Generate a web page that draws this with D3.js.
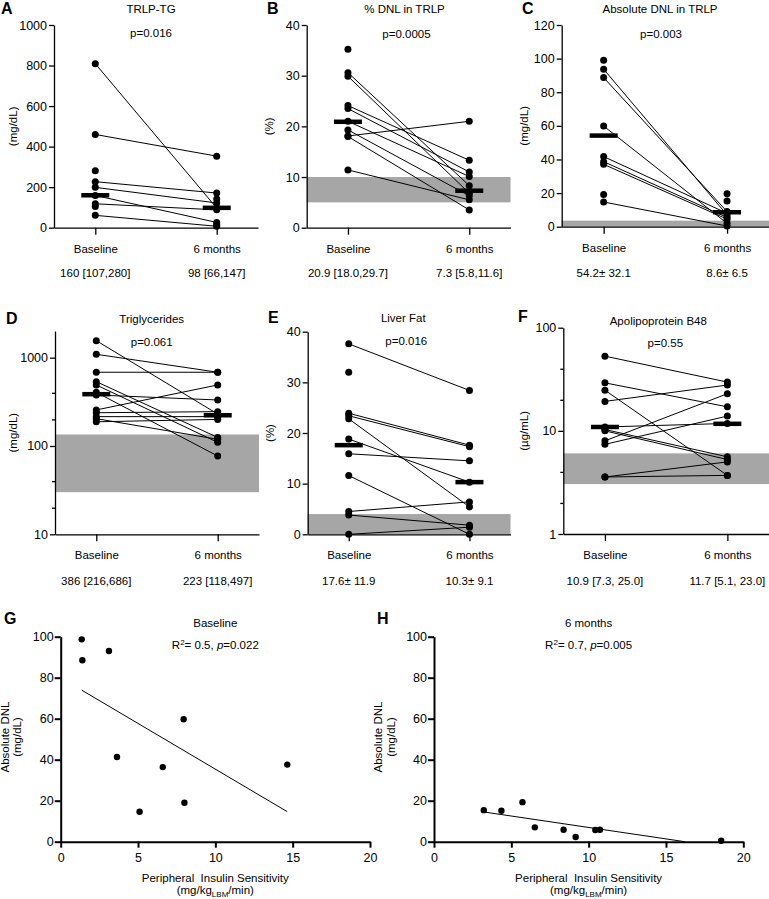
<!DOCTYPE html>
<html><head><meta charset="utf-8">
<script src="https://cdnjs.cloudflare.com/ajax/libs/d3/7.8.5/d3.min.js"></script>
<style>
body{margin:0;background:#fff}
svg{display:block}
text{font-family:"Liberation Sans",Arial,Helvetica,sans-serif;fill:#000}
</style>
</head><body>
<svg id="chart" width="769" height="899"></svg>
<script>
// ---------- DATA ----------
const categories = ["Baseline", "6 months"];

// A: TRLP-TG (mg/dL) — paired by index, null = unpaired
const trlpTgBaseline  = [809, 460, 227, 199, 159, 118, 61, 281, 105, null, null];
const trlpTgSixMonths = [97, 353, 171, 122, 26, 88, 7, null, null, 141, 15];
const trlpTgMedians   = [160, 98];
const trlpTgSummary   = ["160 [107,280]", "98 [66,147]"];
const trlpTgTicks     = [0, 200, 400, 600, 800, 1000];

// B: % DNL in TRLP
const pctDnlBaseline  = [30.6, 29.9, 24.1, 23.5, 21.0, 19.3, 18.1, 18.0, 11.4, 35.2];
const pctDnlSixMonths = [8.3, 6.8, 13.3, 11.0, 10.1, 6.3, 21.0, 3.5, 5.5, null];
const pctDnlMedians   = [20.9, 7.3];
const pctDnlSummary   = ["20.9 [18.0,29.7]", "7.3 [5.8,11.6]"];
const pctDnlRef       = [5, 10];
const pctDnlTicks     = [0, 10, 20, 30, 40];

// C: Absolute DNL in TRLP
const absDnlBaseline  = [93.7, 88.7, 59.9, 41.7, 38.7, 37.1, 14.7, 99.0, 19.2, null, null];
const absDnlSixMonths = [7.0, 9.0, 2.0, 8.0, 5.5, 4.5, 0.4, null, null, 19.6, 15.3];
const absDnlMeans     = [54.2, 8.6];
const absDnlSummary   = ["54.2\u00b1 32.1", "8.6\u00b1 6.5"];
const absDnlRef       = [0, 3.6];
const absDnlTicks     = [0, 20, 40, 60, 80, 100, 120];

// D: Triglycerides (log)
const tgBaseline  = [1559, 1093, 684, 535, 491, 405, 378, 256, 238, 215, 204, 188];
const tgSixMonths = [230, 684, 684, 125, 110, 77, 332, 491, 245, 215, 119, 200];
const tgMedians   = [386, 223];
const tgSummary   = ["386 [216,686]", "223 [118,497]"];
const tgRef       = [30, 135];
const tgTicks     = [10, 100, 1000];
const tgMinorTicks = [20, 40, 200, 400];

// E: Liver Fat (%)
const liverBaseline  = [37.6, 23.9, 23.4, 22.8, 18.8, 15.9, 11.6, 4.5, 3.8, 0, 32.0];
const liverSixMonths = [28.4, 17.6, 17.3, 5.4, 10.3, 14.5, 0, 6.4, 1.8, 1.4, null];
const liverMeans     = [17.6, 10.3];
const liverSummary   = ["17.6\u00b1 11.9", "10.3\u00b1 9.1"];
const liverRef       = [0, 4];
const liverTicks     = [0, 10, 20, 30, 40];

// F: Apolipoprotein B48 (log)
const apoBaseline  = [53, 29.2, 24.8, 19.3, 10.9, 10.3, 10.0, 8.0, 7.4, 3.57, 3.57];
const apoSixMonths = [29.7, 17.1, 3.7, 27.8, 11.8, 5.6, 5.27, 22.9, 13.9, 5.0, 3.7];
const apoMedians   = [10.9, 11.7];
const apoSummary   = ["10.9 [7.3, 25.0]", "11.7 [5.1, 23.0]"];
const apoRef       = [3.05, 6.05];
const apoTicks     = [1, 10, 100];
const apoMinorTicks = [2, 4, 20, 40];

// G / H: Absolute DNL vs Peripheral Insulin Sensitivity
const baselineIS  = [1.36, 1.4, 3.12, 7.95, 3.64, 6.6, 14.65, 5.1, 8.0];
const baselineDNL = [98.7, 88.5, 93.0, 59.7, 41.3, 36.4, 37.6, 14.6, 19.0];
const sixMonthIS  = [3.22, 4.36, 5.72, 6.52, 8.38, 9.16, 10.43, 10.73, 18.57];
const sixMonthDNL = [15.4, 15.1, 19.3, 7.0, 5.8, 2.3, 5.7, 5.8, 0.5];
const scatterXTicks = [0, 5, 10, 15, 20];
const scatterYTicks = [0, 20, 40, 60, 80, 100];

// ---------- DRAWING ----------
const svg = d3.select("#chart");
const GRAY = "#a6a6a6";
const FS = 11.5;

function styleAxis(g, w, fs) {
  g.selectAll("path.domain").attr("stroke", "#000").attr("stroke-width", w);
  g.selectAll(".tick line").attr("stroke", "#000").attr("stroke-width", w);
  g.selectAll(".tick text").attr("font-size", fs).attr("fill", "#000")
    .attr("font-family", '"Liberation Sans",Arial,sans-serif');
}

function txt(x, y, s, opt = {}) {
  return svg.append("text").attr("x", x).attr("y", y)
    .attr("text-anchor", opt.anchor || "middle")
    .attr("font-size", opt.size || FS)
    .attr("font-weight", opt.weight || "normal")
    .text(s);
}

function paired(o) {
  const g = svg.append("g");
  const x = d3.scalePoint().domain(categories).range([o.left, o.right]).padding(0.34);
  const y = (o.log ? d3.scaleLog() : d3.scaleLinear()).domain(o.domain).range([o.bottom, o.top]);
  if (o.band) {
    g.append("rect").attr("x", o.left).attr("width", o.right - o.left)
      .attr("y", y(o.band[1])).attr("height", y(o.band[0]) - y(o.band[1])).attr("fill", GRAY);
  }
  const xb = x(categories[0]), xs = x(categories[1]);
  o.base.forEach((b, i) => {
    const s = o.six[i];
    if (b != null && s != null) {
      g.append("line").attr("x1", xb).attr("y1", y(b)).attr("x2", xs).attr("y2", y(s))
        .attr("stroke", "#000").attr("stroke-width", 1);
    }
  });
  o.base.forEach(b => { if (b != null) g.append("circle").attr("cx", xb).attr("cy", y(b)).attr("r", 3.5); });
  o.six.forEach(s => { if (s != null) g.append("circle").attr("cx", xs).attr("cy", y(s)).attr("r", 3.5); });
  o.center.forEach((m, i) => {
    const cx = x(categories[i]);
    g.append("rect").attr("x", cx - 14).attr("y", y(m) - 2.25).attr("width", 28).attr("height", 4.5).attr("fill", "#000");
  });
  const ya = d3.axisLeft(y).tickValues(o.ticks).tickSize(5).tickPadding(2).tickSizeOuter(0)
    .tickFormat(d3.format("d"));
  const yg = g.append("g").attr("transform", `translate(${o.left},0)`).call(ya);
  styleAxis(yg, 1.3, 12.5);
  if (o.minor) {
    const mg = g.append("g").attr("transform", `translate(${o.left},0)`)
      .call(d3.axisLeft(y).tickValues(o.minor).tickSize(3).tickFormat("").tickSizeOuter(0));
    mg.select("path.domain").remove();
    styleAxis(mg, 1.3, 12);
  }
  const xa = d3.axisBottom(x).tickSize(7).tickPadding(10).tickSizeOuter(0);
  const xg = g.append("g").attr("transform", `translate(0,${o.bottom})`).call(xa);
  styleAxis(xg, 1.3, FS);
  o.summary.forEach((s, i) => txt(x(categories[i]), o.sumY, s));
  txt(o.titleX, o.titleY, o.title);
  txt(o.titleX + (o.pDx || 0), o.pY, o.p);
  txt(o.letterX, o.letterY, o.letter, {anchor: "start", size: 16, weight: 900});
  svg.append("text").attr("transform", `translate(${o.ylabX},${(o.top + o.bottom) / 2}) rotate(-90)`)
    .attr("text-anchor", "middle").attr("dy", "0.35em").attr("font-size", FS).text(o.ylab);
}

// Row 1
paired({left: 54, right: 258, top: 25, bottom: 227.7, domain: [0, 1000], ticks: trlpTgTicks,
  base: trlpTgBaseline, six: trlpTgSixMonths, center: trlpTgMedians, summary: trlpTgSummary, sumY: 276.5,
  title: "TRLP-TG", titleX: 151, titleY: 13, p: "p=0.016", pY: 36.5, letter: "A", letterX: 1, letterY: 14,
  ylab: "(mg/dL)", ylabX: 13});
paired({left: 306.7, right: 510.5, top: 25, bottom: 227.7, domain: [0, 40], ticks: pctDnlTicks, band: pctDnlRef,
  base: pctDnlBaseline, six: pctDnlSixMonths, center: pctDnlMedians, summary: pctDnlSummary, sumY: 276.5,
  title: "% DNL in TRLP", titleX: 404.5, titleY: 13, p: "p=0.0005", pDx: 2, pY: 38, letter: "B", letterX: 267, letterY: 14,
  ylab: "(%)", ylabX: 268.5});
paired({left: 561.7, right: 769, top: 25, bottom: 226.7, domain: [0, 120], ticks: absDnlTicks, band: absDnlRef,
  base: absDnlBaseline, six: absDnlSixMonths, center: absDnlMeans, summary: absDnlSummary, sumY: 276.5,
  title: "Absolute DNL in TRLP", titleX: 660, titleY: 13, p: "p=0.003", pDx: 1, pY: 38, letter: "C", letterX: 522, letterY: 14,
  ylab: "(mg/dL)", ylabX: 524});

// Row 2
paired({left: 55, right: 259, top: 331.1, bottom: 534.3, domain: [10, 2000], log: true, ticks: tgTicks, minor: tgMinorTicks,
  band: tgRef, base: tgBaseline, six: tgSixMonths, center: tgMedians, summary: tgSummary, sumY: 585,
  title: "Triglycerides", titleX: 151.7, titleY: 323, p: "p=0.061", pY: 346, letter: "D", letterX: 6, letterY: 324,
  ylab: "(mg/dL)", ylabX: 13});
paired({left: 307.7, right: 510.5, top: 331.7, bottom: 534.3, domain: [0, 40], ticks: liverTicks, band: liverRef,
  base: liverBaseline, six: liverSixMonths, center: liverMeans, summary: liverSummary, sumY: 585,
  title: "Liver Fat", titleX: 403.3, titleY: 322, p: "p=0.016", pDx: 3, pY: 345, letter: "E", letterX: 268, letterY: 323,
  ylab: "(%)", ylabX: 270});
paired({left: 563.3, right: 769, top: 327.7, bottom: 534, domain: [1, 100], log: true, ticks: apoTicks, minor: apoMinorTicks,
  band: apoRef, base: apoBaseline, six: apoSixMonths, center: apoMedians, summary: apoSummary, sumY: 585,
  title: "Apolipoprotein B48", titleX: 658.3, titleY: 325, p: "p=0.55", pDx: 7, pY: 347, letter: "F", letterX: 518, letterY: 322,
  ylab: "(\u00b5g/mL)", ylabX: 523.5});

// Row 3: scatter panels
function scatter(o) {
  const g = svg.append("g");
  const x = d3.scaleLinear().domain([0, 20]).range([o.left, o.left + 309.3]);
  const y = d3.scaleLinear().domain([0, 100]).range([841.7, 636.7]);
  const mx = d3.mean(o.xs), my = d3.mean(o.ys);
  let sxy = 0, sxx = 0;
  o.xs.forEach((v, i) => { sxy += (v - mx) * (o.ys[i] - my); sxx += (v - mx) * (v - mx); });
  const slope = sxy / sxx, icpt = my - slope * mx;
  const x0 = d3.min(o.xs);
  let x1 = d3.max(o.xs);
  if (slope < 0) x1 = Math.min(x1, -icpt / slope);
  g.append("line").attr("x1", x(x0)).attr("y1", y(icpt + slope * x0))
    .attr("x2", x(x1)).attr("y2", y(icpt + slope * x1)).attr("stroke", "#000").attr("stroke-width", 1);
  o.xs.forEach((v, i) => g.append("circle").attr("cx", x(v)).attr("cy", y(o.ys[i])).attr("r", 3.2));
  const yg = g.append("g").attr("transform", `translate(${o.left},0)`)
    .call(d3.axisLeft(y).tickValues(scatterYTicks).tickSize(6).tickPadding(1).tickSizeOuter(0));
  styleAxis(yg, 2, 12.5);
  const xg = g.append("g").attr("transform", `translate(0,841.7)`)
    .call(d3.axisBottom(x).tickValues(scatterXTicks).tickSize(6).tickPadding(5).tickSizeOuter(0));
  styleAxis(xg, 2, 12.5);
  const cx = o.left + 154.6;
  txt(cx, 627, o.title);
  const r = svg.append("text").attr("x", cx).attr("y", 649).attr("text-anchor", "middle").attr("font-size", FS);
  r.append("tspan").text("R");
  r.append("tspan").attr("font-size", 8).attr("dy", -4).text("2");
  r.append("tspan").attr("dy", 4).text("= " + o.r2 + ", ");
  r.append("tspan").attr("font-style", "italic").text("p");
  r.append("tspan").text("=" + o.p);
  txt(cx, 882, "Peripheral\u00a0\u00a0Insulin Sensitivity");
  const u = svg.append("text").attr("x", cx).attr("y", 894).attr("text-anchor", "middle").attr("font-size", FS);
  u.append("tspan").text("(mg/kg");
  u.append("tspan").attr("font-size", 8).attr("dy", 2.5).text("LBM");
  u.append("tspan").attr("dy", -2.5).text("/min)");
  svg.append("text").attr("transform", `translate(${o.left - 56},737) rotate(-90)`)
    .attr("text-anchor", "middle").attr("dy", "0.35em").attr("font-size", FS).text("Absolute DNL");
  svg.append("text").attr("transform", `translate(${o.left - 43.5},737) rotate(-90)`)
    .attr("text-anchor", "middle").attr("dy", "0.35em").attr("font-size", FS).text("(mg/dL)");
  txt(o.letterX, 624, o.letter, {anchor: "start", size: 16, weight: 900});
}
scatter({left: 60.7, xs: baselineIS, ys: baselineDNL, title: "Baseline", r2: "0.5", p: "0.022", letter: "G", letterX: 4});
scatter({left: 434, xs: sixMonthIS, ys: sixMonthDNL, title: "6 months", r2: "0.7", p: "0.005", letter: "H", letterX: 377});
</script>
</body></html>
